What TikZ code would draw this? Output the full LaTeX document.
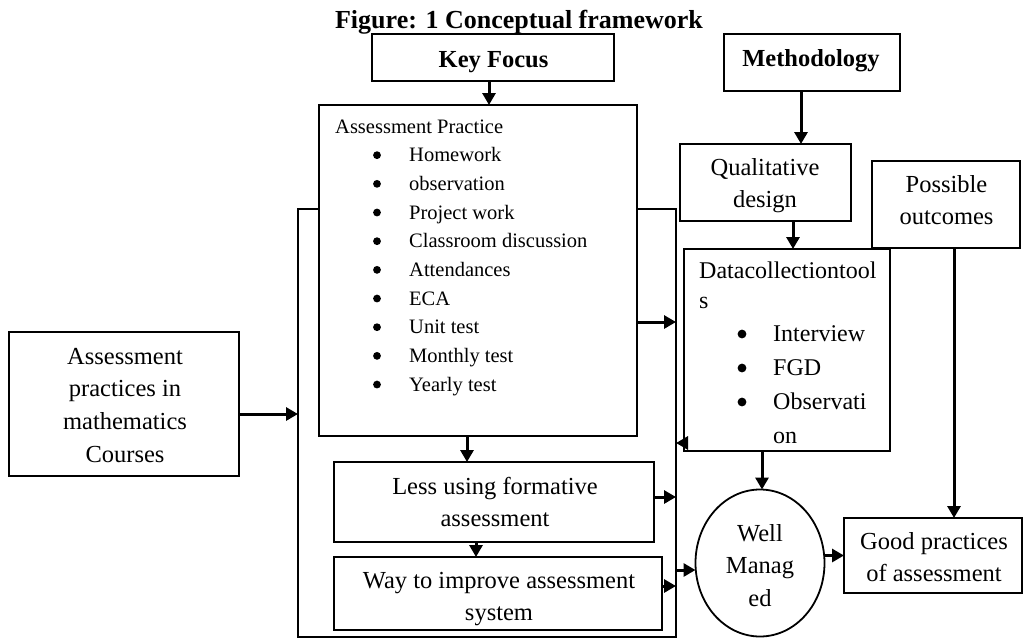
\documentclass[tikz,border=0pt]{standalone}
\usepackage{fontspec}
\setmainfont{Liberation Serif}
\usetikzlibrary{arrows.meta,shapes.geometric}
\begin{document}
\begin{tikzpicture}[x=1pt,y=-1pt,
  box/.style={draw, line width=1.8pt, fill=white, inner sep=0pt, outer sep=0pt},
  arr/.style={line width=3pt, -{Triangle[length=12pt,width=13pt]}},
  txt/.style={inner sep=0pt, anchor=base},
  big/.style={font=\fontsize{24.5}{32.7}\selectfont},
  bold/.style={font=\bfseries\fontsize{24.5}{30}\selectfont},
]
\useasboundingbox (0,0) rectangle (1025,638);
% boxes
\node[box, fill=none, minimum width=378, minimum height=428] (frame) at (487,423) {};
\node[box, minimum width=242, minimum height=47] (kf) at (493,57.5) {};
\node[box, minimum width=176, minimum height=57] (meth) at (812,62.5) {};
\node[box, minimum width=318, minimum height=331] (ap) at (478,270.5) {};
\node[box, minimum width=230, minimum height=144] (apm) at (124,404) {};
\node[box, minimum width=320, minimum height=80] (less) at (494,502) {};
\node[box, minimum width=328, minimum height=73] (way) at (498,593.5) {};
\node[box, minimum width=171, minimum height=77] (qd) at (765.5,182.5) {};
\node[box, minimum width=206, minimum height=202] (dc) at (787,350) {};
\node[box, minimum width=148, minimum height=87] (po) at (946,204.5) {};
\node[box, minimum width=178, minimum height=75] (gp) at (933,555.5) {};
\node[box, ellipse, minimum width=129, minimum height=147] (wm) at (760,563) {};
% texts
\node[txt, font=\bfseries\fontsize{26}{30}\selectfont] (title) at (519,28) {Figure: 1 Conceptual framework};
\node[txt, bold] (kft) at (493.5,67) {Key Focus};
\node[txt, bold] (metht) at (811,66) {Methodology};
\node[txt, big] (apmt) at (125,364) {\begin{tabular}[t]{@{}c@{}}Assessment\\practices in\\mathematics\\Courses\end{tabular}};
\node[txt, big] (lesst) at (495,494) {\begin{tabular}[t]{@{}c@{}}Less using formative\\assessment\end{tabular}};
\node[txt, big] (wayt) at (499,588) {\begin{tabular}[t]{@{}c@{}}Way to improve assessment\\system\end{tabular}};
\node[txt, big] (qdt) at (765,175) {\begin{tabular}[t]{@{}c@{}}Qualitative\\design\end{tabular}};
\node[txt, big] (pot) at (946.5,192) {\begin{tabular}[t]{@{}c@{}}Possible\\outcomes\end{tabular}};
\node[txt, big] (gpt) at (934,549) {\begin{tabular}[t]{@{}c@{}}Good practices\\of assessment\end{tabular}};
\node[txt, big] (wmt) at (760,541) {\begin{tabular}[t]{@{}c@{}}Well\\Manag\\ed\end{tabular}};
\node[txt, anchor=base west, font=\fontsize{20.5}{28.67}\selectfont] (apt) at (335,133) {\begin{tabular}[t]{@{}l@{}}Assessment Practice\\
\hspace*{74pt}Homework\\
\hspace*{74pt}observation\\
\hspace*{74pt}Project work\\
\hspace*{74pt}Classroom discussion\\
\hspace*{74pt}Attendances\\
\hspace*{74pt}ECA\\
\hspace*{74pt}Unit test\\
\hspace*{74pt}Monthly test\\
\hspace*{74pt}Yearly test\end{tabular}};
\foreach \k in {1,...,9} \fill (377,{133+28.67*\k-6.5}) circle (3.9pt);
\node[txt, anchor=base west, font=\fontsize{24}{34}\selectfont] (dct) at (699,278) {\begin{tabular}[t]{@{}l@{}}Datacollectiontool\\[-4pt]
s\\[-1pt]
\hspace*{74pt}Interview\\
\hspace*{74pt}FGD\\
\hspace*{74pt}Observati\\
\hspace*{74pt}on\end{tabular}};
\foreach \yy in {334,368,402} \fill (742,\yy) circle (4.4pt);
% connectors
\draw[arr] ([xshift=-4pt]kf.south) -- ([xshift=-4pt]kf.south |- ap.north);
\draw[arr] ([xshift=-11pt]meth.south) -- ([xshift=-11pt]meth.south |- qd.north);
\draw[arr] ([xshift=27.5pt]qd.south) -- ([xshift=27.5pt]qd.south |- dc.north);
\draw[arr] ([yshift=-51.5pt]ap.east) -- ([yshift=-51.5pt]ap.east -| frame.east);
\draw[arr] ([yshift=-10pt]apm.east) -- ([yshift=-10pt]apm.east -| frame.west);
\draw[arr] ([xshift=-11pt]ap.south) -- ([xshift=-11pt]ap.south |- less.north);
\draw[arr] ([xshift=-18pt]less.south) -- ([xshift=-18pt]less.south |- way.north);
\draw[arr] ([yshift=5pt]less.east) -- ([yshift=5pt]less.east -| frame.east);
\draw[arr] ([yshift=7.5pt]way.east) -- ([yshift=7.5pt]way.east -| frame.east);
\draw[arr] ([yshift=-93pt]dc.west) -- ([yshift=-93pt]dc.west -| frame.east);
\draw[arr] ([yshift=-7pt]wm.west -| frame.east) -- ([yshift=-7pt]wm.west);
\draw[arr] ([xshift=-25pt]dc.south) -- ([xshift=-25pt]dc.south |- wm.north);
\draw[arr] (gp.west -| wm.east) -- (gp.west);
\draw[arr] ([xshift=8pt]po.south) -- ([xshift=8pt]po.south |- gp.north);
\end{tikzpicture}
\end{document}
